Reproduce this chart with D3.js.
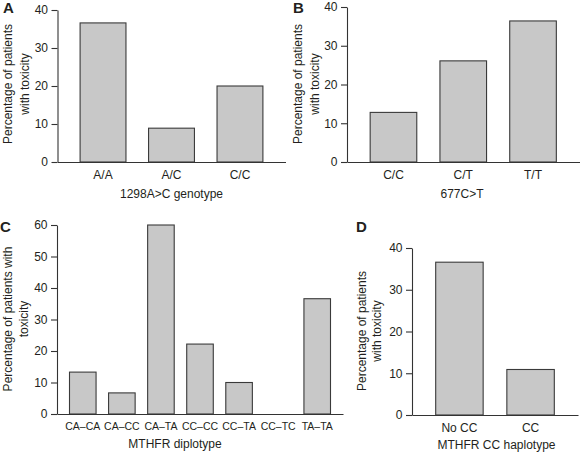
<!DOCTYPE html>
<html>
<head>
<meta charset="utf-8">
<script src="https://cdn.jsdelivr.net/npm/d3@7"></script>
<style>
  html, body { margin: 0; padding: 0; background: #fff; }
  svg { display: block; }
  text { font-family: "Liberation Sans", Arial, Helvetica, sans-serif; fill: #231f20; }
</style>
</head>
<body>
<svg id="chart" width="582" height="453"></svg>
<script>
// ---- Data ----
const catsA = ["A/A", "A/C", "C/C"];
const valsA = [36.6, 8.9, 20.0];
const ticksA = [0, 10, 20, 30, 40];

const catsB = ["C/C", "C/T", "T/T"];
const valsB = [12.8, 26.1, 36.4];
const ticksB = [0, 10, 20, 30, 40];

const catsC = ["CA\u2013CA", "CA\u2013CC", "CA\u2013TA", "CC\u2013CC", "CC\u2013TA", "CC\u2013TC", "TA\u2013TA"];
const valsC = [13.3, 6.7, 60.0, 22.2, 10.0, 0, 36.6];
const ticksC = [0, 10, 20, 30, 40, 50, 60];

const catsD = ["No CC", "CC"];
const valsD = [36.6, 10.9];
const ticksD = [0, 10, 20, 30, 40];

const titlesX = ["1298A>C genotype", "677C>T", "MTHFR diplotype", "MTHFR CC haplotype"];
const panelLetters = ["A", "B", "C", "D"];

// ---- Layout (positions only) ----
const panels = [
  { cats: catsA, vals: valsA, ticks: ticksA, xr: [57.5, 285.5], yr: [162, 10], pad: 0.33,
    letter: [3, 13], ylab: ["Percentage of patients", "with toxicity"], ylx: [11.5, 28.5], yly: 84,
    xt: [171.5, 197.5], tickFont: 12, tickPad: 8.5 },
  { cats: catsB, vals: valsB, ticks: ticksB, xr: [347, 579.5], yr: [162, 7], pad: 0.332,
    letter: [293, 13], ylab: ["Percentage of patients", "with toxicity"], ylx: [301.5, 318.5], yly: 84,
    xt: [462, 197.5], tickFont: 12, tickPad: 8.5 },
  { cats: catsC, vals: valsC, ticks: ticksC, xr: [57, 343], yr: [414, 225], pad: 0.32,
    letter: [0, 232], ylab: ["Percentage of patients with", "toxicity"], ylx: [11.5, 27.5], yly: 319,
    xt: [175, 447.5], tickFont: 10.5, tickPad: 9 },
  { cats: catsD, vals: valsD, ticks: ticksD, xr: [412, 578], yr: [415, 248], pad: 0.333,
    letter: [356, 232], ylab: ["Percentage of patients", "with toxicity"], ylx: [365.5, 381], yly: 331,
    xt: [496.5, 449], tickFont: 12, tickPad: 8.5 }
];

const svg = d3.select("#chart");
const ink = "#333333";

panels.forEach((p, i) => {
  const g = svg.append("g");
  const x = d3.scaleBand().domain(p.cats).range(p.xr).paddingInner(p.pad).paddingOuter(p.pad);
  const yMax = d3.max(p.ticks);
  const y = d3.scaleLinear().domain([0, yMax]).range(p.yr);

  // bars
  g.selectAll("rect.bar").data(p.cats.map((c, j) => ({ c, v: p.vals[j] })).filter(d => d.v > 0))
    .enter().append("rect").attr("class", "bar")
    .attr("x", d => x(d.c))
    .attr("width", x.bandwidth())
    .attr("y", d => y(d.v))
    .attr("height", d => y(0) - y(d.v))
    .attr("fill", "#c8c8c8")
    .attr("stroke", "#3a3a3a")
    .attr("stroke-width", 1.1);

  // y axis
  const ya = g.append("g").attr("transform", `translate(${p.xr[0]},0)`)
    .call(d3.axisLeft(y).tickValues(p.ticks).tickSize(6).tickSizeOuter(0).tickPadding(3.5).tickFormat(d3.format("d")));
  ya.select(".domain").attr("stroke", ink).attr("stroke-width", 1.1);
  ya.selectAll(".tick line").attr("stroke", ink).attr("stroke-width", 1.1);
  ya.selectAll(".tick text").style("font-size", "12px").attr("fill", "#231f20")
    .style("font-family", '"Liberation Sans", Arial, sans-serif');

  // x axis
  const xa = g.append("g").attr("transform", `translate(0,${p.yr[0]})`)
    .call(d3.axisBottom(x).tickSize(0).tickSizeOuter(0).tickPadding(p.tickPad));
  xa.select(".domain").attr("stroke", ink).attr("stroke-width", 1.1);
  xa.selectAll(".tick text").style("font-size", p.tickFont + "px").attr("fill", "#231f20")
    .style("font-family", '"Liberation Sans", Arial, sans-serif');

  // x title
  g.append("text").attr("x", p.xt[0]).attr("y", p.xt[1]).attr("text-anchor", "middle")
    .style("font-size", "12px").text(titlesX[i]);

  // y title (two lines, rotated)
  p.ylab.forEach((line, k) => {
    g.append("text")
      .attr("transform", `translate(${p.ylx[k]},${p.yly}) rotate(-90)`)
      .attr("text-anchor", "middle")
      .style("font-size", "12px")
      .text(line);
  });

  // panel letter
  g.append("text").attr("x", p.letter[0]).attr("y", p.letter[1])
    .style("font-size", "15px").style("font-weight", "bold").text(panelLetters[i]);
});
</script>
</body>
</html>
